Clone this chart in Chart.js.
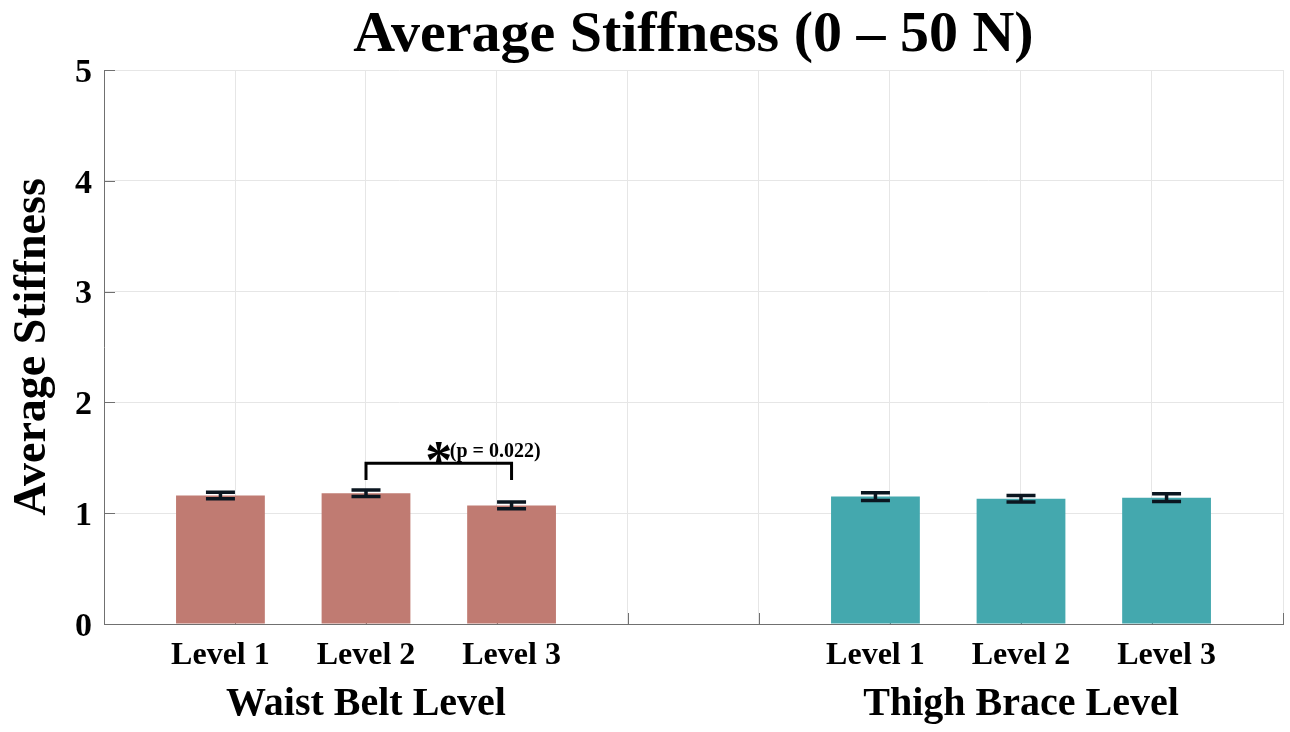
<!DOCTYPE html>
<html>
<head>
<meta charset="utf-8">
<title>Average Stiffness (0 – 50 N)</title>
<script src="https://cdn.jsdelivr.net/npm/chart.js@4/dist/chart.umd.min.js"></script>
<style>
  html, body { margin: 0; padding: 0; background: #ffffff; }
  #wrap { width: 1290px; height: 732px; }
</style>
</head>
<body>
<div id="wrap"><canvas id="chart" width="1290" height="732"></canvas></div>
<script>
// ---- data ----
const chartTitle = 'Average Stiffness (0 – 50 N)';
const yAxisTitle = 'Average Stiffness';
const levelLabels = ['Level 1', 'Level 2', 'Level 3'];
const groupLabels = ['Waist Belt Level', 'Thigh Brace Level'];
const waistPositions = [1, 2, 3];
const thighPositions = [5.5, 6.5, 7.5];
const groupPositions = [2, 6.5];
const waistMean = [1.16, 1.18, 1.07];
const waistError = [0.03, 0.03, 0.03];
const thighMean = [1.15, 1.13, 1.14];
const thighError = [0.035, 0.03, 0.035];
const yTickValues = [0, 1, 2, 3, 4, 5];
const xGridValues = [0.2, 1.1, 2.0, 2.9, 3.8, 4.7, 5.6, 6.5, 7.4, 8.3];
const xRange = [0.2, 8.3];
// significance bracket between Waist Level 2 and Level 3
const sigPair = [1, 2];
const sigTop = 1.45;
const sigFoot = 1.30;
const sigStar = '*';
const sigText = '(p = 0.022)';

// ---- styles ----
const FONT = "'Liberation Serif', 'Times New Roman', serif";
const WAIST_COLOR = '#C07B72';
const THIGH_COLOR = '#44A8AE';
const GRID_COLOR = '#e6e6e6';
const AXIS_COLOR = '#707070';
const ERR_COLOR = '#0b1620';

const barTicks = waistPositions.concat(thighPositions);
const barTickLabels = levelLabels.concat(levelLabels);

function pts(xs, ys) { return xs.map((x, i) => ({ x: x, y: ys[i] })); }
function bold(size) { return { family: FONT, size: size, weight: 'bold' }; }

const decorations = {
  id: 'decorations',
  beforeDatasetsDraw(chart) {
    // inward tick marks along the left and bottom axis lines
    const { ctx, chartArea: a, scales } = chart;
    ctx.save();
    ctx.strokeStyle = AXIS_COLOR;
    ctx.lineWidth = 1;
    ctx.beginPath();
    yTickValues.forEach(v => {
      const y = Math.round(scales.y.getPixelForValue(v)) + 0.5;
      ctx.moveTo(a.left, y); ctx.lineTo(a.left + 11, y);
    });
    xGridValues.forEach(v => {
      const x = Math.round(scales.x.getPixelForValue(v)) + 0.5;
      ctx.moveTo(x, a.bottom); ctx.lineTo(x, a.bottom - 11);
    });
    ctx.stroke();
    ctx.restore();
  },
  afterDatasetsDraw(chart) {
    const { ctx, scales } = chart;
    const sx = scales.x, sy = scales.y;
    ctx.save();
    // error bars
    ctx.strokeStyle = ERR_COLOR;
    ctx.lineWidth = 3.5;
    const drawErr = (xs, means, errs) => {
      xs.forEach((xv, i) => {
        const x = sx.getPixelForValue(xv);
        const yt = sy.getPixelForValue(means[i] + errs[i]);
        const yb = sy.getPixelForValue(means[i] - errs[i]);
        ctx.beginPath();
        ctx.moveTo(x, yt); ctx.lineTo(x, yb);
        ctx.moveTo(x - 14.5, yt); ctx.lineTo(x + 14.5, yt);
        ctx.moveTo(x - 14.5, yb); ctx.lineTo(x + 14.5, yb);
        ctx.stroke();
      });
    };
    drawErr(waistPositions, waistMean, waistError);
    drawErr(thighPositions, thighMean, thighError);

    // significance bracket
    const x1 = sx.getPixelForValue(waistPositions[sigPair[0]]);
    const x2 = sx.getPixelForValue(waistPositions[sigPair[1]]);
    const yTop = sy.getPixelForValue(sigTop);
    const yFoot = sy.getPixelForValue(sigFoot);
    ctx.strokeStyle = '#000000';
    ctx.lineWidth = 3;
    ctx.lineCap = 'butt';
    ctx.beginPath();
    ctx.moveTo(x1, yFoot); ctx.lineTo(x1, yTop); ctx.lineTo(x2, yTop); ctx.lineTo(x2, yFoot);
    ctx.stroke();

    const mid = (x1 + x2) / 2;
    ctx.fillStyle = '#000000';
    ctx.textBaseline = 'alphabetic';
    ctx.font = 'bold 54px ' + FONT;
    ctx.textAlign = 'center';
    ctx.fillText(sigStar, mid, yTop + 15);
    ctx.font = 'bold 20px ' + FONT;
    ctx.textAlign = 'left';
    ctx.fillText(sigText, mid + 11, yTop - 6);

    ctx.restore();
  },
  afterDraw(chart) {
    // chart title, centred over the plotting area
    const { ctx, chartArea: a } = chart;
    ctx.save();
    ctx.fillStyle = '#000000';
    ctx.font = 'bold 58px ' + FONT;
    ctx.textAlign = 'center';
    ctx.textBaseline = 'alphabetic';
    ctx.fillText(chartTitle, (a.left + a.right) / 2, 51);
    ctx.restore();
  }
};

new Chart(document.getElementById('chart'), {
  type: 'bar',
  data: {
    datasets: [
      {
        label: groupLabels[0],
        data: pts(waistPositions, waistMean),
        backgroundColor: WAIST_COLOR,
        borderWidth: 0,
        xAxisID: 'x', yAxisID: 'y'
      },
      {
        label: groupLabels[1],
        data: pts(thighPositions, thighMean),
        backgroundColor: THIGH_COLOR,
        borderWidth: 0,
        xAxisID: 'x', yAxisID: 'y'
      }
    ]
  },
  options: {
    responsive: false,
    animation: false,
    devicePixelRatio: 1,
    grouped: false,
    barPercentage: 0.61,
    categoryPercentage: 1,
    layout: { padding: { top: 70, right: 7, bottom: 0, left: 0 } },
    plugins: {
      legend: { display: false },
      tooltip: { enabled: false },
      title: { display: false }
    },
    scales: {
      x: {
        type: 'linear',
        position: 'bottom',
        min: xRange[0], max: xRange[1],
        offset: false,
        grid: { display: false, offset: false, drawTicks: false },
        border: { display: true, color: AXIS_COLOR, width: 1 },
        ticks: {
          font: bold(32), color: '#000000', padding: 13,
          autoSkip: false, maxRotation: 0, minRotation: 0,
          callback: (v, i) => barTickLabels[i]
        },
        afterBuildTicks: s => { s.ticks = barTicks.map(v => ({ value: v })); },
        afterFit: s => { s.height = 56; }
      },
      xGroup: {
        type: 'linear',
        position: 'bottom',
        weight: 1,
        min: xRange[0], max: xRange[1],
        offset: false,
        grid: { display: false, offset: false, drawTicks: false },
        border: { display: false },
        ticks: {
          font: bold(40), color: '#000000', padding: 1,
          autoSkip: false, maxRotation: 0, minRotation: 0,
          callback: (v, i) => groupLabels[i]
        },
        afterBuildTicks: s => { s.ticks = groupPositions.map(v => ({ value: v })); },
        afterFit: s => { s.height = 52; }
      },
      xGrid: {
        type: 'linear',
        position: 'top',
        min: xRange[0], max: xRange[1],
        offset: false,
        grid: { color: GRID_COLOR, offset: false, drawTicks: false, lineWidth: 1 },
        border: { display: false },
        ticks: { display: false },
        afterBuildTicks: s => { s.ticks = xGridValues.map(v => ({ value: v })); },
        afterFit: s => { s.height = 0; }
      },
      y: {
        position: 'left',
        min: yTickValues[0], max: yTickValues[yTickValues.length - 1],
        grid: { color: GRID_COLOR, drawTicks: false },
        border: { display: true, color: AXIS_COLOR, width: 1 },
        ticks: { stepSize: 1, font: bold(34), color: '#000000', padding: 12, labelOffset: 3 },
        title: {
          display: true, text: yAxisTitle, color: '#000000',
          font: bold(46), padding: { top: 6, bottom: 0 }
        },
        afterBuildTicks: s => { s.ticks = yTickValues.map(v => ({ value: v })); },
        afterFit: s => { s.width = 104; }
      }
    }
  },
  plugins: [decorations]
});
</script>
</body>
</html>
